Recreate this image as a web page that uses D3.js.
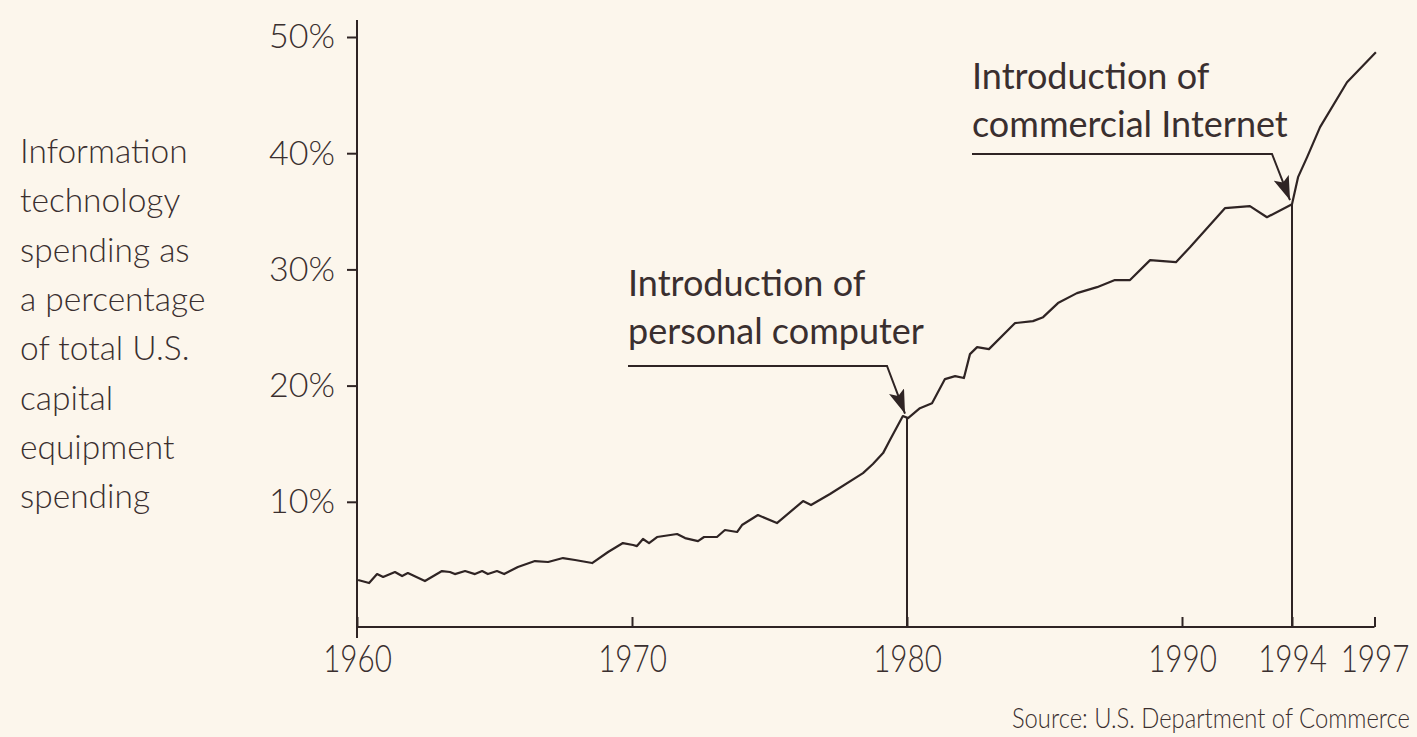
<!DOCTYPE html>
<html>
<head>
<meta charset="utf-8">
<script src="https://cdn.jsdelivr.net/npm/d3@7"></script>
<style>
  body { margin: 0; background: #fcf6ec; }
  svg { display: block; }
  text { font-family: Lato, "Open Sans", sans-serif; fill: #3a2f2f; }
</style>
</head>
<body>
<script>
// IT spending as % of total US capital equipment spending
const years = [
  1960.04, 1960.44, 1960.73, 1960.95, 1961.38, 1961.64, 1961.85, 1962.47, 1963.09, 1963.38,
  1963.56, 1963.93, 1964.29, 1964.55, 1964.76, 1965.09, 1965.35, 1965.85, 1966.47, 1966.95,
  1967.49, 1967.93, 1968.55, 1969.13, 1969.67, 1970.04, 1970.18, 1970.40, 1970.62, 1970.91,
  1971.64, 1971.93, 1972.40, 1972.62, 1973.09, 1973.38, 1973.82, 1974.00, 1974.58, 1975.27,
  1976.22, 1976.51, 1977.20, 1978.40, 1978.76, 1979.13, 1979.38, 1979.85, 1980.04, 1980.47,
  1980.91, 1981.38, 1981.75, 1982.07, 1982.29, 1982.55, 1982.98, 1983.93, 1984.58, 1984.95,
  1985.49, 1986.18, 1986.91, 1987.56, 1988.11, 1988.84, 1989.78, 1990.29, 1991.56, 1992.47,
  1993.09, 1994.00, 1994.22, 1994.55, 1995.02, 1996.00, 1997.05
];
const itShare = [
  3.27, 3.01, 3.78, 3.53, 3.96, 3.61, 3.87, 3.18, 4.04, 3.96,
  3.78, 4.04, 3.78, 4.04, 3.78, 4.04, 3.78, 4.39, 4.90, 4.82,
  5.16, 4.99, 4.73, 5.68, 6.45, 6.28, 6.19, 6.80, 6.45, 6.97,
  7.23, 6.88, 6.62, 6.97, 6.97, 7.57, 7.40, 8.00, 8.86, 8.17,
  10.06, 9.72, 10.67, 12.47, 13.25, 14.19, 15.31, 17.38, 17.20, 18.06,
  18.49, 20.56, 20.82, 20.65, 22.71, 23.31, 23.14, 25.38, 25.55, 25.89,
  27.10, 27.96, 28.47, 29.08, 29.08, 30.80, 30.62, 31.91, 35.27, 35.44,
  34.49, 35.61, 37.94, 39.66, 42.24, 46.11, 48.69
];

const xTicks = [1960, 1970, 1980, 1990, 1994, 1997];
const yTicks = [10, 20, 30, 40, 50];

const yTitle = ["Information", "technology", "spending as", "a percentage",
  "of total U.S.", "capital", "equipment", "spending"];

const events = [
  {year: 1980, lines: ["Introduction of", "personal computer"]},
  {year: 1994, lines: ["Introduction of", "commercial Internet"]}
];
const source = "Source: U.S. Department of Commerce";

const width = 1417, height = 737;
const axisY = 627;

const x = d3.scaleLinear().domain([1960, 1997]).range([357, 1374.5]);
const y = d3.scaleLinear().domain([0, 50]).range([618, 37]);

const svg = d3.select("body").append("svg")
    .attr("width", width)
    .attr("height", height);

svg.append("rect")
    .attr("width", width)
    .attr("height", height)
    .attr("fill", "#fcf6ec");

const ink = "#2f2424";

// y axis
const yAxis = svg.append("g")
    .attr("transform", `translate(${x(1960)},0)`)
    .call(d3.axisLeft(y).tickValues(yTicks).tickSize(10).tickPadding(12)
      .tickFormat(d => d + "%"));
yAxis.select(".domain").remove();
yAxis.selectAll(".tick line").attr("stroke", ink).attr("stroke-width", 2);
yAxis.selectAll(".tick text")
    .attr("font-size", 34)
    .attr("font-weight", 300)
    .attr("font-family", "Lato, sans-serif");

svg.append("line")
    .attr("x1", x(1960)).attr("x2", x(1960))
    .attr("y1", 20).attr("y2", axisY + 11)
    .attr("stroke", ink).attr("stroke-width", 2);

// x axis - year labels are set in a narrow face, so squeeze them horizontally
const xAxis = svg.append("g")
    .attr("transform", `translate(0,${axisY})`)
    .call(d3.axisBottom(x).tickValues(xTicks).tickSize(-10).tickPadding(18)
      .tickFormat(d3.format("d")));
xAxis.select(".domain")
    .attr("d", `M${x(1960)},0H${x(1997)}`)
    .attr("stroke", ink).attr("stroke-width", 2);
xAxis.selectAll(".tick line").attr("stroke", ink).attr("stroke-width", 2);
xAxis.selectAll(".tick text")
    .attr("font-size", 38)
    .attr("font-weight", 300)
    .attr("font-family", "Lato, sans-serif")
    .attr("transform", "scale(0.78,1)");

// y title
svg.append("g")
  .selectAll("text")
  .data(yTitle)
  .join("text")
    .attr("x", 20)
    .attr("y", (d, i) => 163 + i * 49.3)
    .attr("font-size", 33.5)
    .attr("font-weight", 300)
    .text(d => d);

// data line
const data = years.map((yr, i) => ({year: yr, value: itShare[i]}));
svg.append("path")
    .datum(data)
    .attr("fill", "none")
    .attr("stroke", ink)
    .attr("stroke-width", 2.2)
    .attr("stroke-linejoin", "round")
    .attr("d", d3.line().x(d => x(d.year)).y(d => y(d.value)));

// arrowhead
svg.append("defs").append("marker")
    .attr("id", "arrow")
    .attr("viewBox", "0 0 24 16")
    .attr("refX", 24).attr("refY", 8)
    .attr("markerWidth", 24).attr("markerHeight", 16)
    .attr("markerUnits", "userSpaceOnUse")
    .attr("orient", "auto")
  .append("path")
    .attr("d", "M0,0L24,8L0,16L5,8Z")
    .attr("fill", ink);

// event annotations
const valueAt = yr => {
  const i = d3.bisector(d => d.year).left(data, yr);
  const a = data[Math.max(i - 1, 0)], b = data[Math.min(i, data.length - 1)];
  if (a === b) return a.value;
  return a.value + (b.value - a.value) * (yr - a.year) / (b.year - a.year);
};
const labelLayout = [
  {textX: 628, textY: 296, leaderY: 366},
  {textX: 972, textY: 89, leaderY: 154}
];

events.forEach((ev, k) => {
  const L = labelLayout[k];
  const px = x(ev.year), py = y(valueAt(ev.year));
  const g = svg.append("g");

  g.append("line")
      .attr("x1", px).attr("x2", px)
      .attr("y1", py).attr("y2", axisY)
      .attr("stroke", ink).attr("stroke-width", 2);

  g.selectAll("text")
    .data(ev.lines)
    .join("text")
      .attr("x", L.textX)
      .attr("y", (d, i) => L.textY + i * 48)
      .attr("font-size", 36)
      .attr("font-weight", 400)
      .text(d => d);

  g.append("path")
      .attr("d", `M${L.textX},${L.leaderY}H${px - 20}L${px - 2},${py - 4}`)
      .attr("fill", "none")
      .attr("stroke", ink)
      .attr("stroke-width", 2)
      .attr("marker-end", "url(#arrow)");
});

// source
svg.append("text")
    .attr("transform", "translate(1410,728) scale(0.85,1)")
    .attr("text-anchor", "end")
    .attr("font-size", 28)
    .attr("font-weight", 300)
    .text(source);
</script>
</body>
</html>
